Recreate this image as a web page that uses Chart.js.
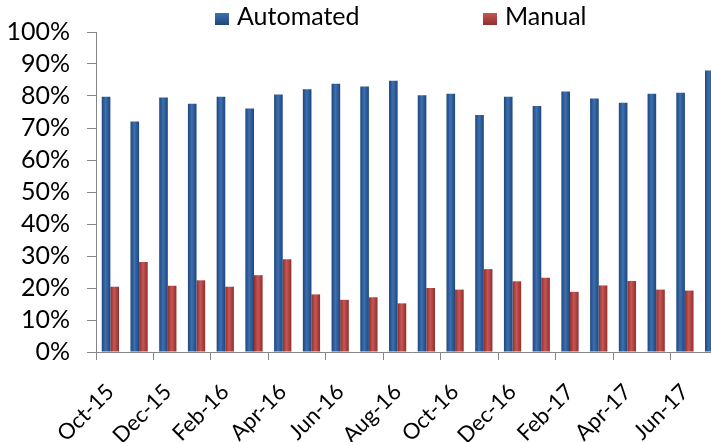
<!DOCTYPE html>
<html>
<head>
<meta charset="utf-8">
<script src="https://cdn.jsdelivr.net/npm/chart.js@4.4.0/dist/chart.umd.min.js"></script>
<style>
  html, body { margin: 0; padding: 0; background: #fff; overflow: hidden; }
  #wrap { width: 728px; height: 472px; }
</style>
</head>
<body>
<div id="wrap"><canvas id="barChart"></canvas></div>
<script>
const months = ['Oct-15', 'Nov-15', 'Dec-15', 'Jan-16', 'Feb-16', 'Mar-16', 'Apr-16', 'May-16',
    'Jun-16', 'Jul-16', 'Aug-16', 'Sep-16', 'Oct-16', 'Nov-16', 'Dec-16', 'Jan-17',
    'Feb-17', 'Mar-17', 'Apr-17', 'May-17', 'Jun-17', 'Jul-17'];
const automated = [79.8, 72.0, 79.5, 77.6, 79.8, 76.1, 80.5, 82.1, 83.8, 83.0, 84.8,
    80.2, 80.7, 74.1, 79.8, 76.9, 81.4, 79.2, 77.9, 80.7, 81.0, 88.0];
const manual = [20.4, 28.1, 20.7, 22.4, 20.4, 24.0, 29.0, 18.0, 16.3, 17.1, 15.2,
    20.0, 19.5, 25.9, 22.1, 23.2, 18.8, 20.8, 22.2, 19.5, 19.2, 12.0];
const yTickLabels = ['0%', '10%', '20%', '30%', '40%', '50%', '60%', '70%', '80%', '90%', '100%'];

const FONT = 'Lato, "Liberation Sans", sans-serif';
const AXIS = '#868686';
const BLUE = ['#1f4679', '#3c6fb3'];
const RED = ['#8e302e', '#c95552'];

// horizontal shading across each bar, like the bevelled Excel bars
function barFill(ctx, colors, side) {
    const chart = ctx.chart;
    const x = chart.scales.x;
    if (!chart.chartArea || !x || ctx.dataIndex === undefined) return colors[1];
    const center = x.getPixelForValue(ctx.dataIndex);
    const w = x.width / months.length * 0.6 / 2;
    const left = side === 0 ? center - w : center;
    const g = chart.ctx.createLinearGradient(left, 0, left + w, 0);
    g.addColorStop(0, colors[0]);
    g.addColorStop(0.45, colors[1]);
    g.addColorStop(1, colors[0]);
    return g;
}

// legend drawn by hand so the two items can sit far apart
const legendPlugin = {
    id: 'wideLegend',
    afterDraw(chart) {
        const c = chart.ctx;
        const items = [
            { x: 215, colors: BLUE, text: chart.data.datasets[0].label },
            { x: 483, colors: RED, text: chart.data.datasets[1].label }
        ];
        c.save();
        c.font = '25px ' + FONT;
        c.textBaseline = 'alphabetic';
        c.textAlign = 'left';
        items.forEach(it => {
            const g = c.createLinearGradient(0, 13, 0, 25);
            g.addColorStop(0, it.colors[1]);
            g.addColorStop(1, it.colors[0]);
            c.fillStyle = g;
            c.fillRect(it.x, 13, 14, 12);
            c.fillStyle = '#000';
            c.fillText(it.text, it.x + 22, 25);
        });
        c.restore();
    }
};

const ctx = document.getElementById('barChart').getContext('2d');

new Chart(ctx, {
    type: 'bar',
    data: {
        labels: months,
        datasets: [{
            label: 'Automated',
            data: automated,
            backgroundColor: c => barFill(c, BLUE, 0)
        }, {
            label: 'Manual',
            data: manual,
            backgroundColor: c => barFill(c, RED, 1)
        }]
    },
    options: {
        responsive: true,
        maintainAspectRatio: false,
        animation: false,
        layout: { padding: { top: 32, left: 0, right: 0, bottom: 0 } },
        datasets: {
            bar: { categoryPercentage: 0.6, barPercentage: 1.0 }
        },
        plugins: {
            legend: { display: false },
            tooltip: { enabled: false }
        },
        scales: {
            x: {
                afterFit(scale) {
                    scale.height = 120;
                    scale.paddingRight = 0;
                },
                border: { display: true, color: AXIS, width: 1 },
                grid: {
                    drawOnChartArea: false,
                    tickLength: 8,
                    tickColor: c => (c.index % 2 === 0 ? AXIS : 'rgba(0,0,0,0)')
                },
                ticks: {
                    autoSkip: false,
                    minRotation: 45,
                    maxRotation: 45,
                    padding: 19,
                    color: '#000',
                    font: { family: FONT, size: 22 },
                    callback: (v, i) => (i % 2 === 0 ? months[i] : '')
                }
            },
            y: {
                min: 0,
                max: 100,
                afterFit(scale) {
                    scale.width = 96;
                },
                border: { display: true, color: AXIS, width: 1 },
                grid: {
                    drawOnChartArea: false,
                    tickLength: 9,
                    tickColor: AXIS
                },
                ticks: {
                    stepSize: 10,
                    autoSkip: false,
                    padding: 17,
                    color: '#000',
                    font: { family: FONT, size: 25 },
                    callback: (v, i) => yTickLabels[i]
                }
            }
        }
    },
    plugins: [legendPlugin]
});
</script>
</body>
</html>
